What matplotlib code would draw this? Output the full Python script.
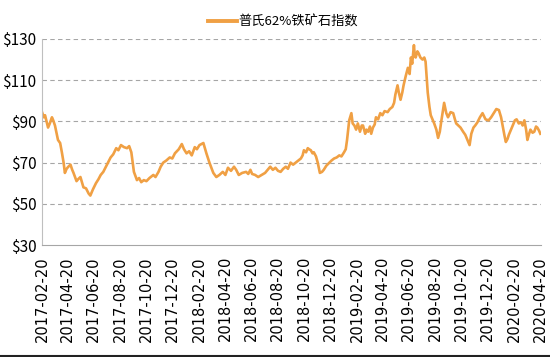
import matplotlib.pyplot as plt
from matplotlib.lines import Line2D
import pandas as pd

# 普氏62%铁矿石指数, values
dates = [
    '2017-02-20', '2017-02-24', '2017-02-27', '2017-03-03', '2017-03-06', '2017-03-10',
    '2017-03-15', '2017-03-18', '2017-03-22', '2017-03-29', '2017-04-03', '2017-04-07',
    '2017-04-11', '2017-04-14', '2017-04-18', '2017-04-22', '2017-04-27', '2017-05-01',
    '2017-05-04', '2017-05-11', '2017-05-15', '2017-05-20', '2017-05-27', '2017-06-02',
    '2017-06-08', '2017-06-12', '2017-06-18', '2017-06-25', '2017-07-01', '2017-07-06',
    '2017-07-12', '2017-07-18', '2017-07-24', '2017-07-29', '2017-08-04', '2017-08-11',
    '2017-08-16', '2017-08-22', '2017-08-29', '2017-09-05', '2017-09-10', '2017-09-15',
    '2017-09-21', '2017-09-28', '2017-10-03', '2017-10-08', '2017-10-14', '2017-10-20',
    '2017-10-27', '2017-11-05', '2017-11-10', '2017-11-17', '2017-11-22', '2017-11-28',
    '2017-12-05', '2017-12-13', '2017-12-19', '2017-12-25', '2018-01-03', '2018-01-10',
    '2018-01-15', '2018-01-21', '2018-01-27', '2018-02-02', '2018-02-09', '2018-02-14',
    '2018-02-20', '2018-03-01', '2018-03-08', '2018-03-15', '2018-03-24', '2018-03-31',
    '2018-04-07', '2018-04-15', '2018-04-21', '2018-04-27', '2018-05-04', '2018-05-11',
    '2018-05-16', '2018-05-22', '2018-05-30', '2018-06-08', '2018-06-13', '2018-06-18',
    '2018-06-22', '2018-06-29', '2018-07-06', '2018-07-14', '2018-07-22', '2018-07-28',
    '2018-08-03', '2018-08-09', '2018-08-15', '2018-08-21', '2018-08-27', '2018-09-02',
    '2018-09-08', '2018-09-13', '2018-09-19', '2018-09-25', '2018-10-01', '2018-10-07',
    '2018-10-13', '2018-10-17', '2018-10-20', '2018-10-25', '2018-10-29', '2018-11-01',
    '2018-11-05', '2018-11-09', '2018-11-12', '2018-11-17', '2018-11-21', '2018-11-26',
    '2018-12-01', '2018-12-05', '2018-12-11', '2018-12-18', '2018-12-23', '2018-12-29',
    '2019-01-04', '2019-01-10', '2019-01-15', '2019-01-21', '2019-01-25', '2019-01-28',
    '2019-02-02', '2019-02-07', '2019-02-10', '2019-02-14', '2019-02-18', '2019-02-22',
    '2019-02-27', '2019-03-03', '2019-03-06', '2019-03-11', '2019-03-14', '2019-03-18',
    '2019-03-22', '2019-03-25', '2019-03-29', '2019-04-02', '2019-04-05', '2019-04-10',
    '2019-04-15', '2019-04-20', '2019-04-25', '2019-05-02', '2019-05-07', '2019-05-13',
    '2019-05-17', '2019-05-20', '2019-05-25', '2019-05-28', '2019-06-01', '2019-06-05',
    '2019-06-08', '2019-06-13', '2019-06-18', '2019-06-22', '2019-06-25', '2019-06-28',
    '2019-07-02', '2019-07-04', '2019-07-06', '2019-07-10', '2019-07-13', '2019-07-17',
    '2019-07-22', '2019-07-26', '2019-07-29', '2019-08-03', '2019-08-07', '2019-08-10',
    '2019-08-14', '2019-08-18', '2019-08-23', '2019-08-27', '2019-08-31', '2019-09-03',
    '2019-09-07', '2019-09-10', '2019-09-15', '2019-09-19', '2019-09-25', '2019-10-01',
    '2019-10-05', '2019-10-08', '2019-10-13', '2019-10-18', '2019-10-24', '2019-10-29',
    '2019-11-03', '2019-11-08', '2019-11-12', '2019-11-17', '2019-11-21', '2019-11-26',
    '2019-12-02', '2019-12-08', '2019-12-15', '2019-12-22', '2019-12-28', '2020-01-03',
    '2020-01-09', '2020-01-15', '2020-01-20', '2020-01-24', '2020-01-28', '2020-01-31',
    '2020-02-04', '2020-02-07', '2020-02-12', '2020-02-18', '2020-02-21', '2020-02-25',
    '2020-03-01', '2020-03-07', '2020-03-10', '2020-03-14', '2020-03-18', '2020-03-21',
    '2020-03-25', '2020-03-28', '2020-04-02', '2020-04-06', '2020-04-10', '2020-04-13',
    '2020-04-17', '2020-04-20',
]
prices = [
    94.5, 92.0, 93.0, 89.5, 87.0, 89.0,
    92.0, 90.5, 88.0, 81.0, 79.5, 75.0,
    70.0, 65.0, 67.0, 68.0, 69.0, 66.5,
    65.0, 61.0, 62.0, 63.0, 58.0, 57.5,
    55.0, 54.0, 57.0, 60.0, 62.0, 64.0,
    65.5, 68.0, 70.5, 72.5, 74.0, 77.0,
    76.0, 78.5, 77.5, 77.0, 78.0, 75.0,
    65.5, 61.5, 62.5, 60.5, 61.5, 61.0,
    62.5, 64.0, 63.0, 65.5, 68.0, 70.0,
    71.0, 72.5, 72.0, 74.5, 76.5, 79.0,
    76.5, 74.5, 75.5, 73.5, 77.5, 76.5,
    78.5, 79.5, 74.5, 70.0, 65.0, 63.0,
    64.0, 65.5, 64.0, 67.5, 66.0, 68.0,
    66.5, 64.0, 65.0, 65.5, 64.5, 66.5,
    64.5, 64.0, 63.0, 64.0, 65.0, 66.5,
    68.0, 66.5, 67.5, 66.0, 65.5, 67.0,
    68.0, 67.0, 70.0, 69.0, 70.0, 71.0,
    72.0, 73.5, 76.0, 75.0, 77.0, 76.5,
    76.0, 74.5, 75.0, 73.0, 70.0, 65.0,
    65.5, 66.5, 68.5, 70.0, 71.0, 72.0,
    72.5, 73.5, 73.0, 75.0, 76.5, 81.0,
    90.5, 94.0, 89.0, 88.0, 86.0, 89.0,
    85.0, 88.0, 88.0, 84.0, 86.0, 85.0,
    87.5, 84.0, 87.0, 88.5, 92.0, 91.0,
    94.0, 93.0, 95.0, 94.5, 96.0, 97.0,
    99.0, 103.0, 107.5, 104.0, 100.5, 104.0,
    107.5, 112.0, 116.0, 113.0, 121.0, 118.0,
    127.0, 122.0, 121.0, 124.0, 123.0, 121.0,
    120.0, 121.0, 119.0, 104.0, 97.0, 93.0,
    91.0, 89.0, 86.0, 82.0, 85.0, 89.5,
    95.0, 99.0, 94.0, 92.0, 94.5, 94.0,
    91.0, 89.0, 88.0, 87.0, 85.0, 83.5,
    81.0, 78.5, 84.0, 87.0, 88.0, 89.5,
    92.0, 94.0, 91.0, 90.5, 92.0, 94.0,
    96.0, 95.5, 92.0, 87.5, 83.0, 80.0,
    81.5, 83.5, 86.0, 89.0, 90.5, 91.0,
    89.0, 89.5, 88.0, 90.5, 86.0, 81.0,
    84.0, 86.0, 84.5, 85.0, 87.5, 87.0,
    85.5, 84.0,
]
tick_dates = pd.date_range('2017-02-01', '2020-04-01', freq='2MS') + pd.Timedelta(days=19)
y_ticks = [30, 50, 70, 90, 110, 130]

line_color = '#F0A044'
grid_color = '#A6A6A6'

fig = plt.figure(figsize=(5.5, 3.57), dpi=100)
ax = fig.add_axes([0.0764, 0.3137, 0.9076, 0.5771])

x = pd.to_datetime(dates)
ax.plot(x, prices, color=line_color, linewidth=1.9, label='普氏62%铁矿石指数')

ax.set_xlim(pd.Timestamp('2017-02-20'), pd.Timestamp('2020-04-22'))
ax.set_ylim(30, 130)
ax.set_yticks(y_ticks)
ax.set_yticklabels(['$' + str(v) for v in y_ticks], family='Noto Sans CJK SC', fontsize=11)
ax.set_xticks(tick_dates)
ax.set_xticklabels([d.strftime('%Y-%m-%d') for d in tick_dates], rotation=90,
                   family='DejaVu Sans', fontsize=10.5)
ax.tick_params(length=0, pad=4)
ax.tick_params(axis='x', pad=8)

for v in y_ticks[1:]:
    ax.axhline(v, color=grid_color, linewidth=0.8, linestyle=(0, (4, 3)), zorder=0)

for side in ['top', 'right']:
    ax.spines[side].set_visible(False)
ax.spines['left'].set_color('#BFBFBF')
ax.spines['bottom'].set_color('#A6A6A6')

leg = ax.legend(loc='center', bbox_to_anchor=(0.515, 0.938), bbox_transform=fig.transFigure,
                frameon=False, handlelength=2.2, handletextpad=0.1,
                prop={'family': 'Noto Sans CJK SC', 'size': 9.5})
leg.get_lines()[0].set_linewidth(2.8)

fig.add_artist(Line2D([0, 1], [0.003, 0.003], transform=fig.transFigure,
                      color='#222222', linewidth=1.5))

fig.savefig('out.png', dpi=100)
